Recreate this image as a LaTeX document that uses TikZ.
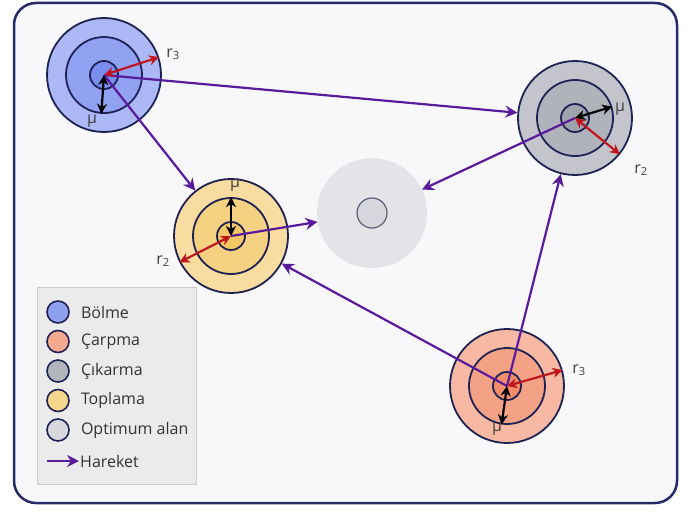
\documentclass[tikz,border=0pt]{standalone}
\usepackage{fontspec}
\setmainfont{Open Sans}
\usetikzlibrary{arrows.meta, positioning}
\definecolor{mFrame}{HTML}{262A66}
\definecolor{mBack}{HTML}{F8F8FA}
\definecolor{mRing}{HTML}{1E2254}
\definecolor{mMove}{HTML}{5A1A9C}
\definecolor{mRed}{HTML}{C0171E}
\definecolor{mLabel}{HTML}{404040}
\definecolor{mBlue}{HTML}{7A8EF0}
\definecolor{mGray}{HTML}{A0A2AC}
\definecolor{mYellow}{HTML}{F3C766}
\definecolor{mOrange}{HTML}{F28E6A}
\definecolor{mOptOuter}{HTML}{E4E4E8}
\definecolor{mOptInner}{HTML}{D7D8DE}
\definecolor{mOptRing}{HTML}{5A5E72}

\begin{document}
\begin{tikzpicture}[x=1pt, y=-1pt, font=\fontsize{16}{18}\selectfont,
    ring/.style={circle, draw=mRing, line width=1.8pt, inner sep=0pt},
    move/.style={-{Stealth[length=12pt, width=12pt, inset=4pt]}, draw=mMove, line width=2.2pt},
    radius arrow/.style={{Stealth[length=10pt, width=10pt, inset=3pt]}-{Stealth[length=10pt, width=10pt, inset=3pt]}, line width=2.2pt},
    lbl/.style={text=mLabel, inner sep=1pt},
    legend dot/.style={circle, draw=mRing, line width=1.6pt, inner sep=0pt, minimum size=22pt},
    legend text/.style={text=black!80, inner sep=1pt, anchor=west}]
    \useasboundingbox (0,0) rectangle (692,511);
    \draw[rounded corners=22pt, draw=mFrame, line width=2.5pt, fill=mBack] (14,3) rectangle (677,503);

    % optimum area
    \node[circle, fill=mOptOuter, inner sep=0pt, minimum size=110pt] (optimum) at (372,213) {};
    \node[circle, draw=mOptRing, fill=mOptInner, line width=1.2pt, inner sep=0pt, minimum size=30pt] (optimumI) at (372,213) {};

    % target rings
    \foreach \n/\x/\y/\c in {bolme/104/75/mBlue, cikarma/575/118/mGray, toplama/231/236/mYellow, carpma/507/386/mOrange} {
      \node[ring, fill=\c!62, minimum size=114pt] (\n) at (\x,\y) {};
      \node[ring, fill=\c!82, minimum size=76pt] (\n M) at (\x,\y) {};
      \node[ring, fill=\c, minimum size=28pt] (\n I) at (\x,\y) {};
    }

    % moves
    \draw[move] (bolme.center) -- (cikarma);
    \draw[move] (bolme.center) -- (toplama);
    \draw[move] (toplama.center) -- (optimum);
    \draw[move] (cikarma.center) -- (optimum);
    \draw[move] (carpma.center) -- (toplama);
    \draw[move] (carpma.center) -- (cikarma);

    % radii
    \draw[radius arrow, mRed] (bolme.center) -- (bolme.18);
    \draw[radius arrow, black] (bolme.center) -- (bolmeM.266);
    \draw[radius arrow, black] (cikarma.center) -- (cikarmaM.17);
    \draw[radius arrow, mRed] (cikarma.center) -- (cikarma.-39);
    \draw[radius arrow, black] (toplama.center) -- (toplamaM.90);
    \draw[radius arrow, mRed] (toplama.center) -- (toplama.207);
    \draw[radius arrow, black] (carpma.center) -- (carpmaM.262);
    \draw[radius arrow, mRed] (carpma.center) -- (carpma.16);

    \node[lbl] (bolmeR) at (173,54) {r\textsubscript{3}};
    \node[lbl] (bolmeMu) at (92,121) {μ};
    \node[lbl] (cikarmaMu) at (620,109) {μ};
    \node[lbl] (cikarmaR) at (641,170) {r\textsubscript{2}};
    \node[lbl] (toplamaMu) at (235,185) {μ};
    \node[lbl] (toplamaR) at (163,261) {r\textsubscript{2}};
    \node[lbl] (carpmaR) at (579,370) {r\textsubscript{3}};
    \node[lbl] (carpmaMu) at (497,429) {μ};

    % legend
    \draw[draw=black!20, fill=black!8] (37,287) rectangle (196,484);
    \foreach \n/\c/\t [count=\i] in {Bolme/mBlue!85/Bölme, Carpma/mOrange!75/Çarpma, Cikarma/mGray!80/Çıkarma, Toplama/mYellow!75/Toplama, Optimum/mOptInner/Optimum alan} {
      \node[legend dot, fill=\c] (lg\n) at (58,{312+(\i-1)*29.5}) {};
      \node[legend text, right=10pt of lg\n] (lg\n T) {\t};
    }
    \coordinate (lgMoveS) at (47,461);
    \node[legend text] (lgHareket) at (79,461) {Hareket};
    \draw[move] (lgMoveS) -- (lgHareket.west);
\end{tikzpicture}
\end{document}
